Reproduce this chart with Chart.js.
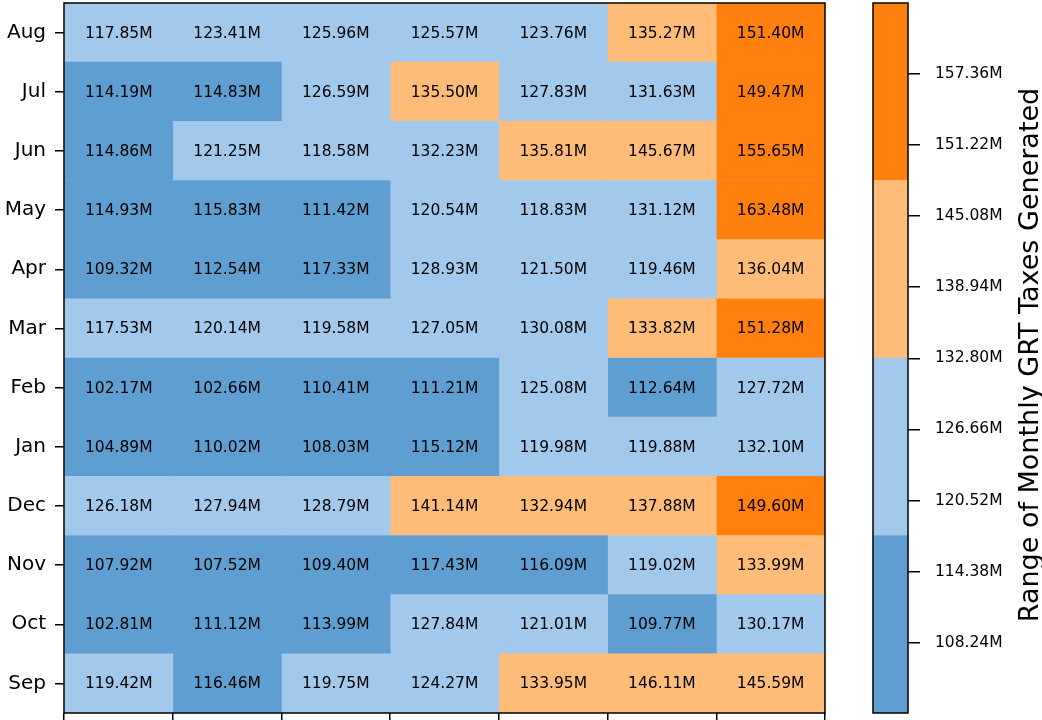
<!DOCTYPE html>
<html>
<head>
<meta charset="utf-8">
<script src="https://cdn.jsdelivr.net/npm/chart.js@4"></script>
<style>
  html, body { margin: 0; padding: 0; background: #fff; }
  #wrap { position: relative; width: 1042px; height: 720px; }
  #main { position: absolute; left: 0; top: 0; }
  #cbar { position: absolute; left: 860px; top: 0; }
</style>
</head>
<body>
<div id="wrap">
  <canvas id="main" width="1042" height="720"></canvas>
  <canvas id="cbar" width="182" height="720"></canvas>
</div>
<script>
// Row categories, top to bottom
const months = ['Aug','Jul','Jun','May','Apr','Mar','Feb','Jan','Dec','Nov','Oct','Sep'];
// Number of columns (x-axis tick labels are not visible in the reference)
const columnCount = 7;
// Values in millions, one array per month row (7 columns each)
const valAug = [117.85,123.41,125.96,125.57,123.76,135.27,151.40];
const valJul = [114.19,114.83,126.59,135.50,127.83,131.63,149.47];
const valJun = [114.86,121.25,118.58,132.23,135.81,145.67,155.65];
const valMay = [114.93,115.83,111.42,120.54,118.83,131.12,163.48];
const valApr = [109.32,112.54,117.33,128.93,121.50,119.46,136.04];
const valMar = [117.53,120.14,119.58,127.05,130.08,133.82,151.28];
const valFeb = [102.17,102.66,110.41,111.21,125.08,112.64,127.72];
const valJan = [104.89,110.02,108.03,115.12,119.98,119.88,132.10];
const valDec = [126.18,127.94,128.79,141.14,132.94,137.88,149.60];
const valNov = [107.92,107.52,109.40,117.43,116.09,119.02,133.99];
const valOct = [102.81,111.12,113.99,127.84,121.01,109.77,130.17];
const valSep = [119.42,116.46,119.75,124.27,133.95,146.11,145.59];
const rows = [valAug,valJul,valJun,valMay,valApr,valMar,valFeb,valJan,valDec,valNov,valOct,valSep];
// Colorbar tick labels
const cbTicks = [108.24,114.38,120.52,126.66,132.80,138.94,145.08,151.22,157.36];
const palette = ['#5f9ed1','#a2c8ec','#ffbc79','#ff800e'];
const cbTitle = 'Range of Monthly GRT Taxes Generated';

const all = rows.flat();
const vmin = Math.min(...all), vmax = Math.max(...all);
const nb = palette.length;
const bounds = palette.map((_, i) => vmin + (vmax - vmin) * i / nb).concat([vmax]);
function colorFor(v) {
  let k = Math.floor((v - vmin) / (vmax - vmin) * nb);
  if (k >= nb) k = nb - 1; if (k < 0) k = 0;
  return palette[k];
}

const FONT = "'DejaVu Sans', sans-serif";

function zeroPad(s) {
  s.paddingTop = 0; s.paddingBottom = 0; s.paddingLeft = 0; s.paddingRight = 0;
}

const frame = {
  id: 'frame',
  afterDraw(chart) {
    const a = chart.chartArea, ctx = chart.ctx;
    ctx.save();
    ctx.strokeStyle = '#000';
    ctx.lineWidth = 1.5;
    ctx.strokeRect(a.left, a.top, a.right - a.left, a.bottom - a.top);
    ctx.restore();
  }
};

const cellText = {
  id: 'cellText',
  afterDatasetsDraw(chart) {
    const ctx = chart.ctx;
    ctx.save();
    ctx.font = '15.5px ' + FONT;
    ctx.fillStyle = '#000';
    ctx.textAlign = 'center';
    ctx.textBaseline = 'middle';
    chart.data.datasets.forEach((ds, di) => {
      chart.getDatasetMeta(di).data.forEach((el, ri) => {
        const p = el.getCenterPoint();
        ctx.fillText(rows[ri][di].toFixed(2) + 'M', p.x, p.y + 1);
      });
    });
    ctx.restore();
  }
};

const cbLabel = {
  id: 'cbLabel',
  afterDraw(chart) {
    const ctx = chart.ctx, a = chart.chartArea;
    ctx.save();
    ctx.translate(178, (a.top + a.bottom) / 2 - 3);
    ctx.rotate(-Math.PI / 2);
    ctx.font = '27px ' + FONT;
    ctx.fillStyle = '#000';
    ctx.textAlign = 'center';
    ctx.textBaseline = 'alphabetic';
    ctx.fillText(cbTitle, 0, 0);
    ctx.restore();
  }
};

const datasets = [];
for (let c = 0; c < columnCount; c++) {
  datasets.push({
    data: rows.map(() => [c, c + 1]),
    backgroundColor: rows.map(r => colorFor(r[c])),
    borderWidth: 0,
    grouped: false,
    barPercentage: 1,
    categoryPercentage: 1
  });
}

new Chart(document.getElementById('main'), {
  type: 'bar',
  data: { labels: months, datasets },
  options: {
    indexAxis: 'y',
    responsive: false,
    animation: false,
    layout: { padding: { left: 0, top: 3, right: 217, bottom: 0 } },
    plugins: { legend: { display: false }, tooltip: { enabled: false } },
    scales: {
      x: {
        type: 'linear', min: 0, max: columnCount,
        ticks: { stepSize: 1, callback: () => '', font: { family: FONT, size: 20 } },
        grid: { drawOnChartArea: false, tickLength: 10, color: '#000', lineWidth: 1.5 },
        border: { display: false },
        afterFit: s => { s.height = 7; zeroPad(s); }
      },
      y: {
        type: 'category',
        ticks: { color: '#000', font: { family: FONT, size: 20 }, padding: 9 },
        grid: { drawOnChartArea: false, offset: false, tickLength: 9, color: '#000', lineWidth: 1.5 },
        border: { display: false },
        afterFit: s => { s.width = 64; zeroPad(s); }
      }
    }
  },
  plugins: [cellText, frame]
});

const cbSets = palette.map((col, i) => ({
  data: [[bounds[i], bounds[i + 1]]],
  backgroundColor: col,
  borderWidth: 0,
  grouped: false,
  barPercentage: 1,
  categoryPercentage: 1
}));

new Chart(document.getElementById('cbar'), {
  type: 'bar',
  data: { labels: [''], datasets: cbSets },
  options: {
    responsive: false,
    animation: false,
    layout: { padding: { left: 13, top: 3, right: 0, bottom: 7 } },
    plugins: { legend: { display: false }, tooltip: { enabled: false } },
    scales: {
      x: { display: false },
      y: {
        position: 'right',
        min: vmin, max: vmax,
        afterBuildTicks: s => { s.ticks = cbTicks.map(v => ({ value: v })); },
        ticks: { color: '#000', font: { family: FONT, size: 15.5 }, padding: 15,
                 callback: v => Number(v).toFixed(2) + 'M' },
        grid: { drawOnChartArea: false, tickLength: 12, color: '#000', lineWidth: 1.5 },
        border: { display: false },
        afterFit: s => { s.width = 134; zeroPad(s); }
      }
    }
  },
  plugins: [frame, cbLabel]
});
</script>
</body>
</html>
